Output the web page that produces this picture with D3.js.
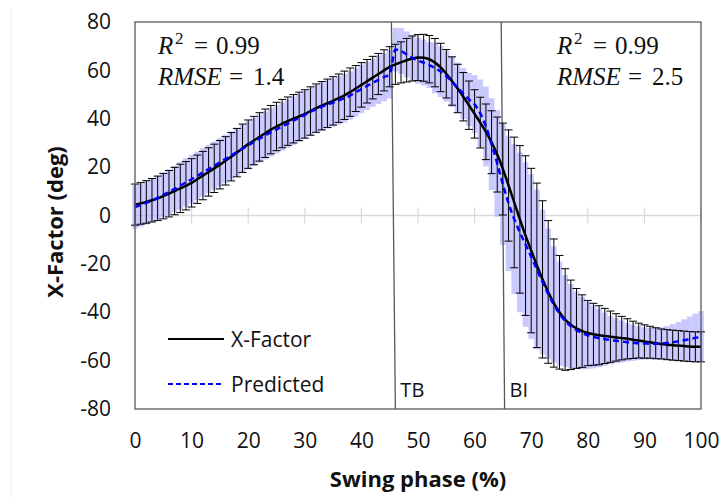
<!DOCTYPE html>
<html>
<head>
<meta charset="utf-8">
<script src="https://cdn.jsdelivr.net/npm/d3@7"></script>
<style>
  body { margin: 0; background: #fff; }
  text { font-family: "Open Sans", sans-serif; }
</style>
</head>
<body>
<div id="chart"></div>
<script>
// swing phase, one point per percent
let phase = d3.range(0, 101);

// measured X-Factor (mean) and its SD, deg
let xFactor = [4.5, 5, 5.6, 6.3, 7.1, 8, 9, 10.1, 11.2, 12.3,
  13.5, 15, 16.5, 18, 19.5, 21, 22.6, 24.3, 26, 27.8,
  29.5, 31, 32.5, 34, 35.5, 36.8, 38, 39, 40, 41,
  42, 43.2, 44.4, 45.4, 46.4, 47.4, 48.5, 49.7, 51, 52.5,
  54, 55.5, 57, 58.5, 60, 61.5, 62.5, 63.3, 64.2, 64.9,
  65.3, 65.2, 64.6, 63.2, 61.2, 58.6, 55.6, 52.5, 49.1, 45.6,
  42, 38.4, 34.6, 30.3, 25.2, 19.2, 12.4, 5.4, -1.6, -8.3,
  -14.5, -20.6, -26.4, -31.6, -36.2, -40, -43, -45.2, -46.7, -47.8,
  -48.6, -49.1, -49.5, -49.8, -50.1, -50.4, -50.7, -51, -51.4, -51.7,
  -52.1, -52.4, -52.8, -53.1, -53.4, -53.6, -53.8, -54, -54.2, -54.3, -54.3];

let xFactorSD = [8.5, 8.6, 8.8, 9, 9.2, 9.4, 9.6, 9.8, 10, 10,
  10, 10, 10, 10, 10, 10, 10, 10, 10, 10,
  10, 10, 10, 10, 10, 10, 10, 10, 10, 10,
  10, 10, 10, 10, 10, 10, 10, 10, 10, 9.5,
  9.2, 9, 8.8, 8.5, 8.5, 8.3, 8.3, 8.5, 9, 9.3,
  9.5, 9.7, 9.8, 10, 10, 10, 10, 10, 10, 10,
  10, 10.5, 11.5, 13, 15.5, 19, 23, 27, 30.5, 33,
  34, 34, 32.5, 29.5, 26.5, 23.5, 21, 18.5, 16.5, 15,
  13.5, 12.8, 12.2, 11.4, 10.6, 9.8, 9, 8.3, 7.7, 7.2,
  6.9, 6.6, 6.4, 6.2, 6.2, 6.2, 6.2, 6.2, 6.2, 6.2, 6.2];

// predicted X-Factor and its SD, deg
let predicted = [3.5, 4.3, 5.2, 6.2, 7.3, 8.5, 9.7, 11, 12.3, 13.7,
  15, 16.4, 17.8, 19.2, 20.6, 22, 23.4, 24.8, 26.2, 27.6,
  29, 30.4, 31.8, 33.1, 34.4, 35.6, 36.8, 38, 39.2, 40.4,
  41.6, 42.8, 44, 45, 45.9, 46.7, 47.6, 48.5, 49.6, 50.9,
  52.3, 53.6, 54.9, 56.1, 57.2, 58.4, 68.6, 68, 66.6, 65.2,
  64, 63.2, 62.2, 61, 59.5, 57.6, 55.3, 52.8, 50.4, 48,
  46, 42.2, 36.8, 29.5, 21.5, 12.8, 5, -1.5, -7, -12,
  -17, -22.3, -27.5, -32.4, -36.8, -40.6, -43.6, -45.8, -47.4, -48.6,
  -49.5, -50.2, -50.7, -51.1, -51.5, -51.8, -52.1, -52.4, -52.6, -52.8,
  -52.9, -53, -53, -52.9, -52.7, -52.4, -52, -51.6, -51.1, -50.6, -50];

let predictedSD = [9, 9, 9, 9, 9, 9.2, 9.4, 9.6, 9.8, 10,
  10, 10, 10, 10, 10, 10, 10, 10, 10, 10,
  10, 10, 10, 10, 10, 10, 10, 10, 10, 10,
  10, 10, 10, 10, 10, 10, 10, 10, 10, 10,
  10, 10, 10, 10, 10, 10, 9, 9.5, 9.5, 9.5,
  9.5, 9.5, 9.5, 10.5, 10.5, 10.5, 10.5, 10.5, 10.5, 11,
  12, 14, 16.5, 19, 22, 25, 28, 31, 33, 34,
  34, 33, 30, 27, 24, 21.5, 19, 17.5, 16, 15,
  14, 13, 12, 11, 10, 9.3, 8.7, 8, 7.5, 7,
  6.7, 6.5, 6.5, 6.7, 7, 7.5, 8, 8.7, 9.3, 10, 10.5];

let xTicks = [0, 10, 20, 30, 40, 50, 60, 70, 80, 90, 100];
let yTicks = [-80, -60, -40, -20, 0, 20, 40, 60, 80];

// event markers (top and bottom phase of the drawn line)
let eventNames = ["TB", "BI"];
let eventTop = [45.3, 64.7];
let eventBottom = [46.0, 65.3];

let fitR2 = ["0.99", "0.99"];
let fitRMSE = ["1.4", "2.5"];

let svgWidth = 721, svgHeight = 497;
let margin = { left: 135, top: 22, right: 20, bottom: 88 };
let w = svgWidth - margin.left - margin.right;
let h = svgHeight - margin.top - margin.bottom;

let svg = d3.select("#chart").append("svg")
  .attr("width", svgWidth)
  .attr("height", svgHeight);

// faint page edge on the left
svg.append("line")
  .attr("x1", 11).attr("x2", 11).attr("y1", 8).attr("y2", svgHeight)
  .attr("stroke", "#ececec").attr("stroke-width", 1);

let g = svg.append("g").attr("transform", `translate(${margin.left},${margin.top})`);

let x = d3.scaleLinear().domain([0, 100]).range([0, w]);
let y = d3.scaleLinear().domain([-80, 80]).range([h, 0]);

// zero axis with crossing ticks
g.append("line")
  .attr("x1", 0).attr("x2", w).attr("y1", y(0)).attr("y2", y(0))
  .attr("stroke", "#d9d9d9").attr("stroke-width", 1.5);
g.selectAll(".ztick").data(xTicks).enter().append("line")
  .attr("x1", d => x(d)).attr("x2", d => x(d))
  .attr("y1", y(0) - 8).attr("y2", y(0) + 8)
  .attr("stroke", "#d9d9d9").attr("stroke-width", 1.2);

let step = x(1) - x(0);

// predicted band
g.selectAll(".band").data(phase).enter().append("rect")
  .attr("x", d => x(d) - step / 2)
  .attr("width", step)
  .attr("y", (d, i) => y(predicted[i] + predictedSD[i]))
  .attr("height", (d, i) => y(predicted[i] - predictedSD[i]) - y(predicted[i] + predictedSD[i]))
  .attr("fill", "#a8a8ff")
  .attr("opacity", 0.62);

// event lines
g.selectAll(".event").data(eventNames).enter().append("line")
  .attr("x1", (d, i) => x(eventTop[i]))
  .attr("x2", (d, i) => x(eventBottom[i]))
  .attr("y1", 0).attr("y2", h)
  .attr("stroke", "#595959").attr("stroke-width", 1.3);

g.selectAll(".eventLabel").data(eventNames).enter().append("text")
  .attr("x", (d, i) => x(eventBottom[i]) + 5)
  .attr("y", h - 12)
  .attr("font-size", 20)
  .attr("fill", "#111")
  .text(d => d);

// error bars of the measured X-Factor
let bars = g.selectAll(".err").data(phase).enter().append("g");
bars.append("line")
  .attr("x1", d => x(d)).attr("x2", d => x(d))
  .attr("y1", (d, i) => y(xFactor[i] + xFactorSD[i]))
  .attr("y2", (d, i) => y(xFactor[i] - xFactorSD[i]))
  .attr("stroke", "#000").attr("stroke-width", 1);
bars.append("line")
  .attr("x1", d => x(d) - 4).attr("x2", d => x(d) + 4)
  .attr("y1", (d, i) => y(xFactor[i] + xFactorSD[i]))
  .attr("y2", (d, i) => y(xFactor[i] + xFactorSD[i]))
  .attr("stroke", "#000").attr("stroke-width", 1);
bars.append("line")
  .attr("x1", d => x(d) - 4).attr("x2", d => x(d) + 4)
  .attr("y1", (d, i) => y(xFactor[i] - xFactorSD[i]))
  .attr("y2", (d, i) => y(xFactor[i] - xFactorSD[i]))
  .attr("stroke", "#000").attr("stroke-width", 1);

let line = d3.line()
  .x(d => x(d[0]))
  .y(d => y(d[1]))
  .curve(d3.curveMonotoneX);

g.append("path")
  .datum(phase.map((p, i) => [p, xFactor[i]]))
  .attr("d", line)
  .attr("fill", "none")
  .attr("stroke", "#000")
  .attr("stroke-width", 2.5);

g.append("path")
  .datum(phase.map((p, i) => [p, predicted[i]]))
  .attr("d", line)
  .attr("fill", "none")
  .attr("stroke", "#0000ff")
  .attr("stroke-width", 2.5)
  .attr("stroke-dasharray", "6,4");

// plot frame
g.append("rect")
  .attr("width", w).attr("height", h)
  .attr("fill", "none")
  .attr("stroke", "#595959").attr("stroke-width", 1.3);

// axes (labels only), plain hyphen for negatives
let xAxis = g.append("g")
  .attr("transform", `translate(0,${h})`)
  .call(d3.axisBottom(x).tickValues(xTicks).tickSize(0).tickPadding(24).tickFormat(d => String(d)));
xAxis.select(".domain").remove();
xAxis.selectAll("text").attr("font-size", 21).attr("fill", "#111")
  .style("font-family", "Open Sans");

let yAxis = g.append("g")
  .call(d3.axisLeft(y).tickValues(yTicks).tickSize(0).tickPadding(24).tickFormat(d => String(d)));
yAxis.select(".domain").remove();
yAxis.selectAll("text").attr("font-size", 21).attr("fill", "#111")
  .style("font-family", "Open Sans");

svg.append("text")
  .attr("x", 418)
  .attr("y", 487)
  .attr("text-anchor", "middle")
  .attr("font-size", 22)
  .attr("font-weight", "bold")
  .attr("fill", "#111")
  .text("Swing phase (%)");

svg.append("text")
  .attr("transform", "translate(63,222) rotate(-90)")
  .attr("text-anchor", "middle")
  .attr("font-size", 22)
  .attr("font-weight", "bold")
  .attr("fill", "#111")
  .text("X-Factor (deg)");

// fit statistics
let statX = [158, 557];
statX.forEach((sx, i) => {
  let t1 = svg.append("text")
    .attr("y", 54)
    .attr("font-size", 25)
    .style("font-family", "Liberation Serif")
    .attr("fill", "#111");
  t1.append("tspan").attr("x", sx).attr("font-style", "italic").text("R");
  t1.append("tspan").attr("x", sx + 17).attr("font-size", 17).attr("dy", -10).text("2");
  t1.append("tspan").attr("x", sx + 36).attr("dy", 10).text("=");
  t1.append("tspan").attr("x", sx + 58).text(fitR2[i]);

  let t2 = svg.append("text")
    .attr("y", 85)
    .attr("font-size", 25)
    .style("font-family", "Liberation Serif")
    .attr("fill", "#111");
  t2.append("tspan").attr("x", sx).attr("font-style", "italic").text("RMSE");
  t2.append("tspan").attr("x", sx + 71).text("=");
  t2.append("tspan").attr("x", sx + 95).text(fitRMSE[i]);
});

// legend
let legend = [
  { name: "X-Factor", color: "#000", dash: null },
  { name: "Predicted", color: "#0000ff", dash: "5,3" }
];
let legY = [339, 384];
legend.forEach((d, i) => {
  svg.append("line")
    .attr("x1", 168).attr("x2", 224)
    .attr("y1", legY[i]).attr("y2", legY[i])
    .attr("stroke", d.color).attr("stroke-width", 2)
    .attr("stroke-dasharray", d.dash);
  svg.append("text")
    .attr("x", 231).attr("y", legY[i] + 8)
    .attr("font-size", 21)
    .attr("fill", "#111")
    .text(d.name);
});
</script>
</body>
</html>
